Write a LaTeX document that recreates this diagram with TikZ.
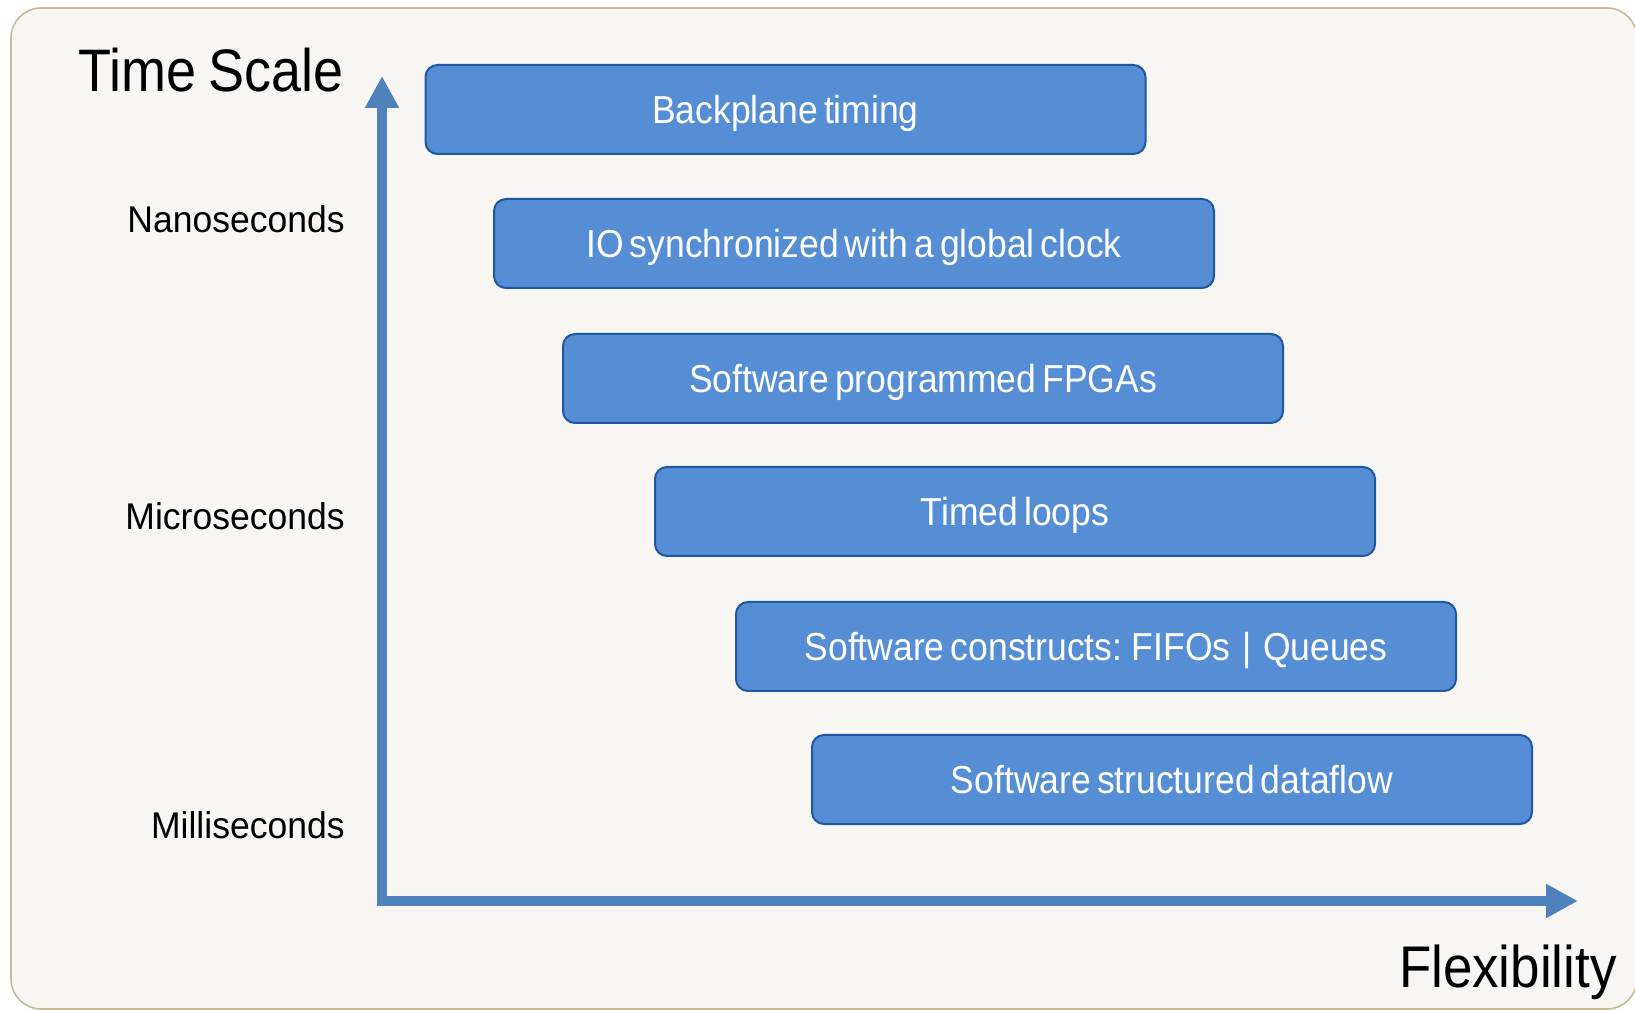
\documentclass[tikz,border=0pt]{standalone}
\usepackage{fontspec}
\setmainfont{Liberation Sans}
\newfontfamily\labfont{Liberation Sans}[FakeStretch=0.955]
\newfontfamily\boxfont{Liberation Sans}[FakeStretch=0.91, WordSpace=0.62]
\newfontfamily\bigfont{Liberation Sans}[FakeStretch=0.9, WordSpace=0.8]
\usetikzlibrary{arrows.meta}
\definecolor{bg}{RGB}{247,246,242}
\definecolor{bgline}{RGB}{196,188,150}
\definecolor{boxfill}{RGB}{85,142,213}
\definecolor{boxline}{RGB}{32,88,160}
\definecolor{axiscol}{RGB}{79,129,189}
\begin{document}
\begin{tikzpicture}[x=0.5pt,y=-0.5pt,
  stage/.style={draw=boxline, line width=1pt, fill=boxfill, rounded corners=6pt,
    minimum width=360pt, minimum height=44.5pt, inner sep=0pt, text=white,
    font=\boxfont\fontsize{19.5pt}{20pt}\selectfont, text height=14pt, text depth=0pt},
  lab/.style={anchor=base east, inner sep=0pt, font=\labfont\fontsize{18.6pt}{20pt}\selectfont},
  big/.style={anchor=base east, inner sep=0pt, font=\bigfont\fontsize{30pt}{32pt}\selectfont},
  axisline/.style={draw=axiscol, line width=5pt, -{Triangle[length=16pt,width=16pt]}}
]
\useasboundingbox (0,0) rectangle (1635,1010);
\fill[white] (0,0) rectangle (1635,1010);
\draw[bgline, line width=0.8pt, fill=bg, rounded corners=15pt] (11,8) rectangle (1637,1009);

% axes
\coordinate (ybot) at (382,906);
\coordinate (ytop) at (382,76);
\coordinate (xleft) at (377,901);
\coordinate (xright) at (1578,901);
\draw[axisline] (ybot) -- (ytop);
\draw[axisline] (xleft) -- (xright);

% labels
\node[big] (ts) at (344,92) {Time Scale};
\node[big, font=\bigfont\fontsize{29.4pt}{32pt}\selectfont] (flex) at (1617,987) {Flexibility};
\node[lab] (ns) at (345,233) {Nanoseconds};
\node[lab] (us) at (345,530) {Microseconds};
\node[lab] (ms) at (345,838) {Milliseconds};

% stages
\node[stage] (b1) at (785.5,109.5) {Backplane timing};
\node[stage] (b2) at (854,243.5) {IO synchronized with a global clock};
\node[stage] (b3) at (923,378.5) {Software programmed FPGAs};
\node[stage] (b4) at (1015,511.5) {Timed loops};
\node[stage] (b5) at (1096,646.5) {Software constructs: FIFOs\hspace{0.3em}|\hspace{0.3em}Queues};
\node[stage] (b6) at (1172,779.5) {Software structured dataflow};
\end{tikzpicture}
\end{document}
